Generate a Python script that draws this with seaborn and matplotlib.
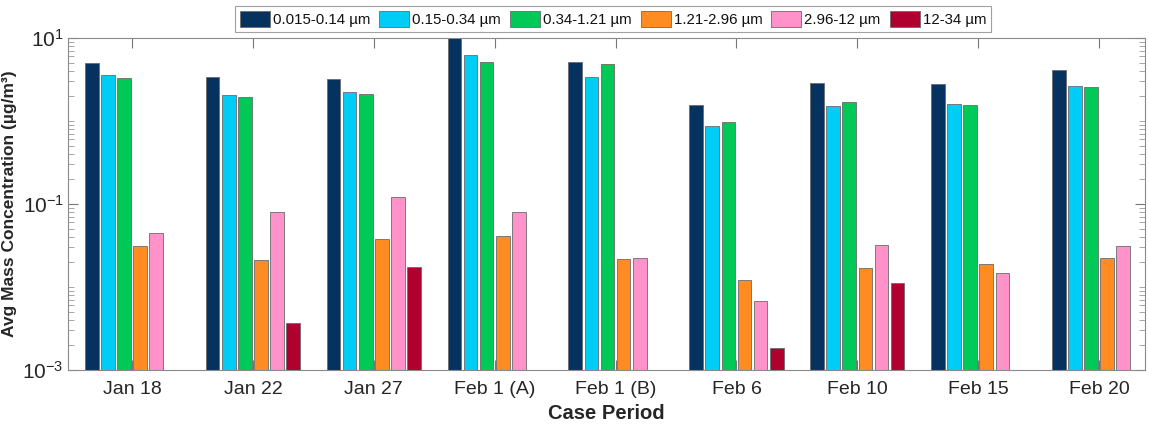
import numpy as np
import pandas as pd
import matplotlib
matplotlib.use("Agg")
import matplotlib.pyplot as plt
import seaborn as sns
from matplotlib.ticker import LogLocator, FixedLocator, NullFormatter

cases = ["Jan 18", "Jan 22", "Jan 27", "Feb 1 (A)", "Feb 1 (B)", "Feb 6", "Feb 10", "Feb 15", "Feb 20"]
sizes = ["0.015-0.14 µm", "0.15-0.34 µm", "0.34-1.21 µm", "1.21-2.96 µm", "2.96-12 µm", "12-34 µm"]

bin_0015_014 = [4.95, 3.42, 3.18, 12.0, 5.09, 1.56, 2.85, 2.77, 4.08]
bin_015_034 = [3.58, 2.07, 2.25, 6.18, 3.42, 0.88, 1.52, 1.60, 2.62]
bin_034_121 = [3.27, 1.96, 2.10, 5.09, 4.82, 0.98, 1.68, 1.56, 2.55]
bin_121_296 = [0.0312, 0.0211, 0.0376, 0.0411, 0.0219, 0.0121, 0.0171, 0.0187, 0.0223]
bin_296_12 = [0.0451, 0.0807, 0.120, 0.0807, 0.0223, 0.00671, 0.0324, 0.0149, 0.0309]
bin_12_34 = [np.nan, 0.00366, 0.0173, np.nan, np.nan, 0.00186, 0.0111, np.nan, np.nan]

colors = ["#05325f", "#00cdf5", "#00c957", "#ff8c23", "#ff92c8", "#b00030"]

series = [bin_0015_014, bin_015_034, bin_034_121, bin_121_296, bin_296_12, bin_12_34]
rows = []
for s, vals in zip(sizes, series):
    for c, v in zip(cases, vals):
        rows.append({"case": c, "size": s, "val": v})
df = pd.DataFrame(rows).dropna()

sns.set_style("white")
plt.rcParams["font.family"] = ["Liberation Sans", "DejaVu Sans"]

fig = plt.figure(figsize=(11.49, 4.30), dpi=100)
ax = fig.add_axes([68/1149, 1-370/430, (1145-68)/1149, (370-38)/430])

sns.barplot(data=df, x="case", y="val", hue="size", order=cases, hue_order=sizes,
            palette=colors, width=0.8, gap=0.15, edgecolor="#6b6b6b", linewidth=0.6,
            ax=ax, legend=True, saturation=1)
ax.set_yscale("log")
ax.set_ylim(1e-3, 10)
ax.set_xlim(-0.53, 8.38)

ax.yaxis.set_major_locator(FixedLocator([1e-3, 1e-1, 1e1]))
ax.yaxis.set_minor_locator(LogLocator(base=10, subs=np.arange(1, 10), numticks=20))
ax.yaxis.set_minor_formatter(NullFormatter())
ax.tick_params(axis="y", which="major", direction="in", length=7, width=0.8, color="#777777",
               labelsize=15, left=True, right=True, labelcolor="#262626", pad=3)
ax.tick_params(axis="y", which="minor", direction="in", length=4, width=0.6, color="#999999",
               left=True, right=True)
ax.tick_params(axis="x", direction="in", length=7, width=0.8, color="#777777", labelsize=14,
               bottom=True, top=True, labelcolor="#262626", pad=8)

for sp in ax.spines.values():
    sp.set_color("#8a8a8a")
    sp.set_linewidth(0.8)

ax.set_xlabel("Case Period", fontsize=14.5, fontweight="bold", color="#262626", labelpad=4)
ax.set_ylabel("Avg Mass Concentration (µg/m³)", fontsize=12.5, fontweight="bold", color="#262626", labelpad=4)

handles, labels = ax.get_legend_handles_labels()
ax.get_legend().remove()
leg = fig.legend(handles, labels, loc="upper center", bbox_to_anchor=(613/1149, 1-6/430),
                 ncol=6, fontsize=10.8, frameon=True, fancybox=False, edgecolor="#8a8a8a",
                 handlelength=2.0, handleheight=1.2, handletextpad=0.2, columnspacing=0.6,
                 borderpad=0.35, borderaxespad=0)
leg.get_frame().set_linewidth(0.8)
for t in leg.get_texts():
    t.set_color("#111111")

fig.savefig("out.png", dpi=100)
